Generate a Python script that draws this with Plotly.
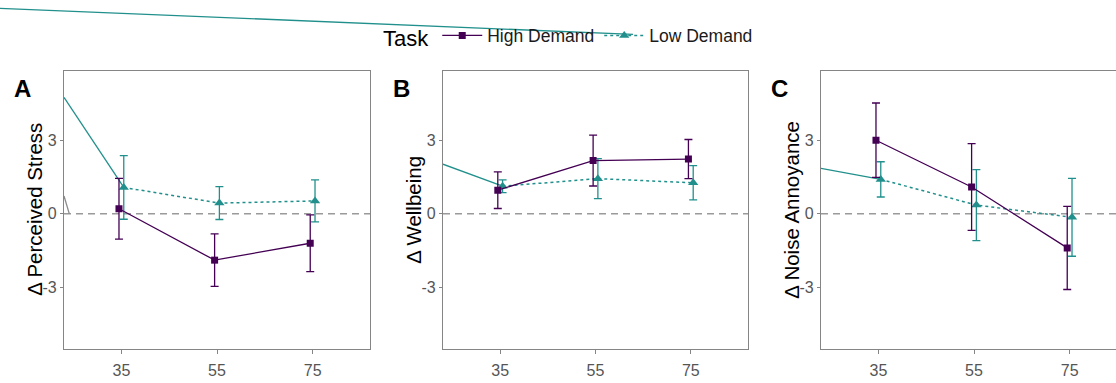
import plotly.graph_objects as go

# ---------------- data ----------------
x_levels = [35, 55, 75]
y_tick_vals = [-3, 0, 3]
y_tick_text = ["-3", "0", "3"]
panel_letters = ["A", "B", "C"]
y_titles = ["Δ Perceived Stress", "Δ Wellbeing", "Δ Noise Annoyance"]
groups = ["High Demand", "Low Demand"]

stress_high = [0.20, -1.90, -1.21]
stress_high_err = [1.24, 1.07, 1.16]
stress_low = [1.07, 0.43, 0.52]
stress_low_err = [1.30, 0.67, 0.86]

wellbeing_high = [0.96, 2.17, 2.23]
wellbeing_high_err = [0.75, 1.04, 0.80]
wellbeing_low = [1.12, 1.43, 1.26]
wellbeing_low_err = [0.26, 0.82, 0.70]

noise_high = [3.00, 1.09, -1.40]
noise_high_err = [1.52, 1.77, 1.70]
noise_low = [1.40, 0.35, -0.15]
noise_low_err = [0.72, 1.45, 1.59]

# stray solid teal segment entering each panel from the left edge (as in the picture)
stray_entry = [4.75, 2.02, 1.85]

# ---------------- style ----------------
PURPLE = "#440154"
TEAL = "#21908C"
FONT = "Liberation Sans, Arial, sans-serif"
W, H = 1116, 383
dodge = 0.5

panel_px = [(64, 370), (443, 748), (821, 1116)]
top_px, bot_px = 70.7, 349
x_ranges = [[23, 87], [23, 87], [23, 23 + 295 * 64 / 306]]
y_range = [-5.53, 5.84]

high_sets = [(stress_high, stress_high_err), (wellbeing_high, wellbeing_high_err), (noise_high, noise_high_err)]
low_sets = [(stress_low, stress_low_err), (wellbeing_low, wellbeing_low_err), (noise_low, noise_low_err)]

fig = go.Figure()
layout = dict(
    width=W, height=H,
    margin=dict(l=0, r=0, t=0, b=0),
    paper_bgcolor="white", plot_bgcolor="white",
    font=dict(family=FONT, color="black"),
    showlegend=True,
    legend=dict(orientation="h", x=381 / W, xanchor="left", y=1 - 37 / H, yanchor="middle",
                font=dict(size=17.5, color="#1a1a1a", family=FONT),
                title=dict(text="Task", font=dict(size=22, family=FONT, color="black"), side="left"),
                bgcolor="rgba(0,0,0,0)", itemwidth=40, tracegroupgap=0),
    shapes=[], annotations=[],
)

for i in range(3):
    sfx = "" if i == 0 else str(i + 1)
    xa, ya = "x" + sfx, "y" + sfx
    l, r = panel_px[i]
    layout["xaxis" + sfx] = dict(
        domain=[l / W, r / W], range=x_ranges[i], anchor=ya,
        tickvals=x_levels, ticktext=[str(v) for v in x_levels],
        showgrid=False, zeroline=False, showline=True, linecolor="#858585", linewidth=1.2,
        mirror=True, ticks="outside", ticklen=4, tickcolor="#858585", tickwidth=1.2,
        tickfont=dict(size=16, color="#555555", family=FONT), ticklabelstandoff=3,
    )
    layout["yaxis" + sfx] = dict(
        domain=[1 - bot_px / H, 1 - top_px / H], range=y_range, anchor=xa,
        tickvals=y_tick_vals, ticktext=y_tick_text,
        showgrid=False, zeroline=False, showline=True, linecolor="#858585", linewidth=1.2,
        mirror=(i < 2), ticks="outside", ticklen=3, tickcolor="#858585", tickwidth=1.2,
        tickfont=dict(size=16, color="#555555", family=FONT),
    )
    # zero reference line
    layout["shapes"].append(dict(type="line", xref=xa + " domain", yref=ya, x0=0, x1=1, y0=0, y1=0,
                                 line=dict(color="#9a9a9a", width=1.5, dash="7px,5px"), layer="below"))
    # panel letter
    layout["annotations"].append(dict(text="<b>%s</b>" % panel_letters[i], xref="paper", yref="paper",
                                      x=(l - 42) / W, y=1 - 88 / H, xanchor="center", yanchor="middle",
                                      showarrow=False, font=dict(size=24, color="black", family=FONT)))
    # y title
    layout["annotations"].append(dict(text=y_titles[i], xref="paper", yref="paper", textangle=-90,
                                      x=(l - 29) / W, y=1 - ((top_px + bot_px) / 2) / H,
                                      xanchor="center", yanchor="middle", showarrow=False,
                                      font=dict(size=20.5, color="black", family=FONT)))

    hv, he = high_sets[i]
    lv, le = low_sets[i]
    xs_high = [x - dodge for x in x_levels]
    xs_low = [x + dodge for x in x_levels]

    # stray solid teal segment
    fig.add_trace(go.Scatter(x=[x_ranges[i][0], xs_low[0]], y=[stray_entry[i], lv[0]], mode="lines",
                             line=dict(color=TEAL, width=1.3), xaxis=xa, yaxis=ya,
                             showlegend=False, hoverinfo="skip"))

    fig.add_trace(go.Scatter(
        x=xs_low, y=lv, mode="lines+markers", name=groups[1], legendgroup="low", showlegend=(i == 0),
        legendrank=2,
        line=dict(color=TEAL, width=1.5, dash="dot"),
        marker=dict(symbol="triangle-up", size=9, color=TEAL),
        error_y=dict(type="data", array=le, color=TEAL, thickness=1.3, width=4),
        xaxis=xa, yaxis=ya))
    fig.add_trace(go.Scatter(
        x=xs_high, y=hv, mode="lines+markers", name=groups[0], legendgroup="high", showlegend=(i == 0),
        legendrank=1,
        line=dict(color=PURPLE, width=1.3),
        marker=dict(symbol="square", size=7, color=PURPLE),
        error_y=dict(type="data", array=he, color=PURPLE, thickness=1.3, width=4),
        xaxis=xa, yaxis=ya))

# small grey stroke at panel A's left edge and the long stray teal stroke at the top
layout["shapes"].append(dict(type="line", xref="x", yref="y", x0=23, y0=0.72, x1=24.1, y1=0,
                             line=dict(color="#8a8a8a", width=1.3)))
layout["shapes"].append(dict(type="line", xref="paper", yref="paper", x0=0, y0=1 - 8.3 / H,
                             x1=633 / W, y1=1 - 34.4 / H, line=dict(color=TEAL, width=1.3)))

fig.update_layout(**layout)
fig.write_html("out.html", config={"displayModeBar": False},
               post_script="document.body.style.margin='0';document.body.style.overflow='hidden';")
